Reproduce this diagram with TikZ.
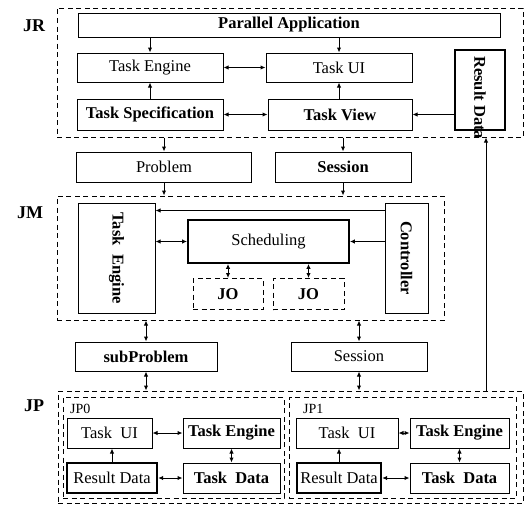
\documentclass[tikz,border=0pt]{standalone}
\usepackage{fontspec}
\setmainfont{Liberation Serif}
\usepackage{graphicx}
\usetikzlibrary{calc,arrows.meta}
\tikzset{
	blk/.style={draw, line width=1pt, inner sep=0pt, font=\fontsize{16.5}{18}\selectfont},
	blkb/.style={blk, font=\fontsize{16.5}{18}\selectfont\bfseries},
	thk/.style={line width=2.4pt},
	grp/.style={draw, dash pattern=on 5pt off 3.5pt, line width=1pt, inner sep=0pt},
	tag/.style={font=\fontsize{18}{20}\selectfont\bfseries},
	sub/.style={font=\fontsize{14}{16}\selectfont},
	con/.style={line width=1pt, -{Latex[length=5pt,width=4.5pt]}},
	dcon/.style={line width=1pt, {Latex[length=5pt,width=4.5pt]}-{Latex[length=5pt,width=4.5pt]}},
}

\begin{document}
\begin{tikzpicture}[x=1pt,y=-1pt]
			%%%%% START %%%%%
			\useasboundingbox (0,0) rectangle (529,506);
			
			% JR
			\node[grp, minimum width=466pt, minimum height=129pt] (jr) at (290,72.5) {};
			\node[tag] (jrtag) at (34,26) {JR};
			\node[blkb, minimum width=422pt, minimum height=24pt] (pa) at (289,25) {Parallel Application};
			\node[blk, minimum width=146pt, minimum height=29pt] (te) at (150,67.5) {Task Engine};
			\node[blk, minimum width=146pt, minimum height=29pt] (tu) at (339,67.5) {Task UI};
			\node[blkb, minimum width=146pt, minimum height=31pt] (ts) at (150,114.5) {Task Specification};
			\node[blkb, minimum width=144pt, minimum height=31pt] (tv) at (340,114.5) {Task View};
			\node[blk, thk, minimum width=50pt, minimum height=80pt] (rd) at (480,90) {};
			\node[font=\fontsize{16.5}{18}\selectfont\bfseries, rotate=-90, anchor=west, inner sep=0pt] (rdtxt) at (480,56) {Result Data};
			
			\draw[con] (te |- pa.south) -- (te.north);
			\draw[con] (tu |- pa.south) -- (tu.north);
			\draw[dcon] (te.east) -- (tu.west);
			\draw[con] (ts.north) -- (te.south);
			\draw[con] (tu |- tv.north) -- (tu.south);
			\draw[dcon] (ts.east) -- (tv.west);
			\draw[con] (tv.east -| rd.west) -- (tv.east);
			
			% JR -> JM
			\node[blk, minimum width=175pt, minimum height=30pt] (prob) at (164,167) {Problem};
			\node[blkb, minimum width=136pt, minimum height=30pt] (ses) at (343,167) {Session};
			\draw[con] (prob |- jr.south) -- (prob.north);
			\draw[con] (ses |- jr.south) -- (ses.north);
			
			% JM
			\node[grp, minimum width=387pt, minimum height=124pt] (jm) at (250.5,258) {};
			\node[tag] (jmtag) at (30,213) {JM};
			\node[blkb, minimum width=77pt, minimum height=110pt] (jmte) at (116.5,258) {\rotatebox{-90}{Task\ \ Engine}};
			\node[blk, line width=1.8pt, minimum width=161pt, minimum height=43pt] (sch) at (268.5,241.5) {Scheduling};
			\node[blkb, minimum width=43pt, minimum height=110pt] (ctl) at (406.5,258) {\rotatebox{-90}{Controller}};
			\node[grp, font=\fontsize{16.5}{18}\selectfont\bfseries, minimum width=70pt, minimum height=31pt] (jo1) at (228,294) {JO};
			\node[grp, font=\fontsize{16.5}{18}\selectfont\bfseries, minimum width=71pt, minimum height=31pt] (jo2) at (308.5,294) {JO};
			
			\draw[con] (prob.south) -- (prob |- jm.north);
			\draw[con] (ses.south) -- (ses |- jm.north);
			\draw[con] ([yshift=-8pt]ctl.north west) -- ([yshift=-8pt]jmte.north east);
			\draw[dcon] (jmte.east |- sch.west) -- (sch.west);
			\draw[con] (ctl.west |- sch.east) -- (sch.east);
			\draw[dcon] (jo1 |- sch.south) -- (jo1.north);
			\draw[dcon] (jo2 |- sch.south) -- (jo2.north);
			
			% JM -> JP
			\node[blkb, minimum width=142pt, minimum height=29pt] (subp) at (146,356.5) {subProblem};
			\node[blk, minimum width=136pt, minimum height=29pt] (ses2) at (359,356.5) {Session};
			\draw[dcon] (subp |- jm.south) -- (subp.north);
			\draw[dcon] (ses2 |- jm.south) -- (ses2.north);
			
			% JP
			\node[grp, minimum width=465pt, minimum height=112pt] (jp) at (290.5,447) {};
			\node[tag] (jptag) at (34,406) {JP};
			\draw[dcon] (subp.south) -- (subp |- jp.north);
			\draw[dcon] (ses2.south) -- (ses2 |- jp.north);
			\draw[con] ($(jp.north -| rd)+(6,0)$) -- ($(jr.south -| rd)+(6,0)$);
			
			% JP0
			\node[grp, line width=0.8pt, minimum width=221pt, minimum height=101pt] (jp0) at (173.5,447.5) {};
			\node[sub, anchor=west, inner sep=0pt] (jp0tag) at (70,409) {JP0};
			\node[blk, minimum width=85pt, minimum height=30pt] (ui0) at (109.5,433) {Task\ \ UI};
			\node[blkb, minimum width=97pt, minimum height=30pt] (en0) at (231.5,433) {Task Engine};
			\node[blk, thk, minimum width=90pt, minimum height=30pt] (rs0) at (112,478) {Result Data};
			\node[blkb, minimum width=97pt, minimum height=30pt] (dt0) at (231.5,478) {Task\ \ Data};
			\draw[dcon] (ui0.east) -- (en0.west);
			\draw[con] (rs0.north) -- (rs0.north |- ui0.south);
			\draw[dcon] (en0.south) -- (dt0.north);
			\draw[dcon] (rs0.east) -- (dt0.west);
			
			% JP1
			\node[grp, line width=0.8pt, minimum width=227pt, minimum height=101pt] (jp1) at (402.5,447.5) {};
			\node[sub, anchor=west, inner sep=0pt] (jp1tag) at (303,409) {JP1};
			\node[blk, minimum width=102pt, minimum height=30pt] (ui1) at (347,433) {Task\ \ UI};
			\node[blkb, minimum width=99pt, minimum height=30pt] (en1) at (459.5,433) {Task Engine};
			\node[blk, thk, minimum width=84pt, minimum height=30pt] (rs1) at (339,478) {Result Data};
			\node[blkb, minimum width=99pt, minimum height=30pt] (dt1) at (459.5,478) {Task\ \ Data};
			\draw[dcon] (ui1.east) -- (en1.west);
			\draw[con] (rs1.north) -- (rs1.north |- ui1.south);
			\draw[dcon] (en1.south) -- (dt1.north);
			\draw[dcon] (rs1.east) -- (dt1.west);
			
			%%%%% END %%%%%
\end{tikzpicture}
\end{document}
